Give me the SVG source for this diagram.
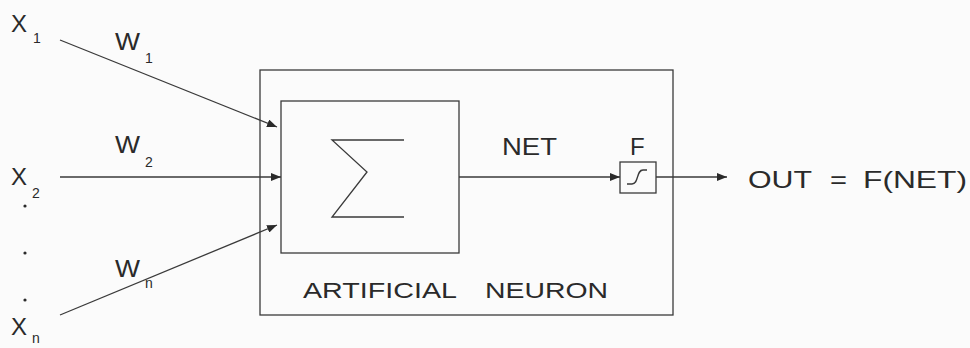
<svg xmlns="http://www.w3.org/2000/svg" width="970" height="348" viewBox="0 0 970 348">
  <style>
    .t { font-family: "Liberation Sans", Arial, sans-serif; fill: #2a2a2a; }
    .big { font-size: 24px; }
    .sub { font-size: 14px; }
    .box { fill: none; stroke: #3a3a3a; stroke-width: 1.3; }
    .ln { fill: none; stroke: #3a3a3a; stroke-width: 1.3; }
  </style>
  <defs>
    <marker id="arr" viewBox="0 0 10 8" refX="10" refY="4" markerWidth="10" markerHeight="8" markerUnits="userSpaceOnUse" orient="auto">
      <path d="M0,0 L10,4 L0,8 Z" fill="#2a2a2a"/>
    </marker>
  </defs>
  <rect width="970" height="348" fill="#fbfbfb"/>

  <g id="input-x1">
    <text class="t big" x="11" y="32">X</text>
    <text class="t sub" x="33" y="43">1</text>
  </g>
  <g id="input-x2">
    <text class="t big" x="11" y="185">X</text>
    <text class="t sub" x="32" y="198">2</text>
  </g>
  <g id="input-dots">
    <circle cx="25" cy="206" r="1.6" fill="#2a2a2a"/>
    <circle cx="25" cy="253" r="1.6" fill="#2a2a2a"/>
    <circle cx="25" cy="300" r="1.6" fill="#2a2a2a"/>
  </g>
  <g id="input-xn">
    <text class="t big" x="11" y="335">X</text>
    <text class="t sub" x="32" y="343">n</text>
  </g>

  <g id="weights">
    <text class="t big" x="115" y="50" textLength="25" lengthAdjust="spacingAndGlyphs">W</text>
    <text class="t sub" x="145" y="63">1</text>
    <text class="t big" x="115" y="153" textLength="25" lengthAdjust="spacingAndGlyphs">W</text>
    <text class="t sub" x="145" y="167">2</text>
    <text class="t big" x="115" y="277" textLength="25" lengthAdjust="spacingAndGlyphs">W</text>
    <text class="t sub" x="145" y="288">n</text>
  </g>

  <g id="artificial-neuron">
    <rect class="box" x="260" y="70" width="413" height="245"/>
    <text class="t" font-size="22" x="303" y="298" textLength="154" lengthAdjust="spacingAndGlyphs">ARTIFICIAL</text>
    <text class="t" font-size="22" x="485" y="298" textLength="123" lengthAdjust="spacingAndGlyphs">NEURON</text>
  </g>

  <g id="summation">
    <rect class="box" x="281" y="101" width="178" height="152"/>
    <path class="ln" d="M404,140 L332,140 L367,172 L332,217 L404,217"/>
  </g>

  <g id="activation">
    <text class="t big" x="630" y="155">F</text>
    <rect class="box" x="620" y="162" width="36" height="31"/>
    <path class="ln" d="M627,184 L632,184 C639,184 636,170 643,170 L647,170"/>
  </g>

  <g id="output">
    <text class="t big" x="748" y="188" textLength="64" lengthAdjust="spacingAndGlyphs">OUT</text>
    <text class="t big" x="830" y="188" textLength="17" lengthAdjust="spacingAndGlyphs">=</text>
    <text class="t big" x="863" y="188" textLength="104" lengthAdjust="spacingAndGlyphs">F(NET)</text>
  </g>

  <g id="connectors">
    <line class="ln" x1="60" y1="40" x2="277" y2="127" marker-end="url(#arr)"/>
    <line class="ln" x1="60" y1="177" x2="281" y2="177" marker-end="url(#arr)"/>
    <line class="ln" x1="60" y1="315" x2="277" y2="225" marker-end="url(#arr)"/>
    <line class="ln" x1="459" y1="177" x2="620" y2="177" marker-end="url(#arr)"/>
    <line class="ln" x1="656" y1="177" x2="727" y2="177" marker-end="url(#arr)"/>
    <text class="t big" x="502" y="155" textLength="55" lengthAdjust="spacingAndGlyphs">NET</text>
  </g>
</svg>
